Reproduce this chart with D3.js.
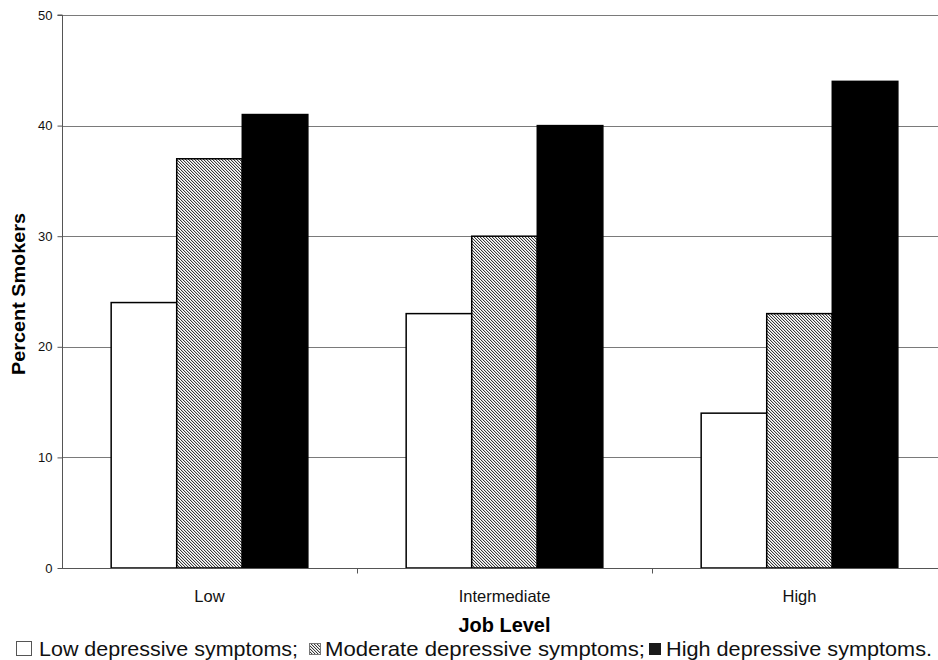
<!DOCTYPE html>
<html>
<head>
<meta charset="utf-8">
<script src="https://cdn.jsdelivr.net/npm/d3@7"></script>
<style>
  html, body { margin: 0; padding: 0; background: #fff; }
  svg { display: block; font-family: "Liberation Sans", Arial, sans-serif; }
</style>
</head>
<body>
<svg id="chart" width="938" height="660"></svg>
<script>
// ---- data ----
const categories = ["Low", "Intermediate", "High"];
const seriesNames = ["Low depressive symptoms", "Moderate depressive symptoms", "High depressive symptoms"];
const lowDepressive = [24, 23, 14];
const moderateDepressive = [37, 30, 23];
const highDepressive = [41, 40, 44];
const yTickValues = [0, 10, 20, 30, 40, 50];
const xAxisTitle = "Job Level";
const yAxisTitle = "Percent Smokers";
const legendLabels = ["Low depressive symptoms;", "Moderate depressive symptoms;", "High depressive symptoms."];

const seriesValues = [lowDepressive, moderateDepressive, highDepressive];

// ---- layout ----
const svg = d3.select("#chart");
const plot = { left: 62, right: 947, top: 15, bottom: 568 };

const defs = svg.append("defs");
const pat = defs.append("pattern")
  .attr("id", "hatch")
  .attr("patternUnits", "userSpaceOnUse")
  .attr("width", 3).attr("height", 3);
pat.append("rect").attr("width", 3).attr("height", 3).attr("fill", "#fff");
// pixel-exact "\" diagonal hatch
[[0, 0], [1, 1], [2, 2]].forEach(([px, py]) => {
  pat.append("rect").attr("x", px).attr("y", py).attr("width", 1).attr("height", 1)
    .attr("fill", "#3a3a3a").attr("shape-rendering", "crispEdges");
});
[[1, 0], [2, 1], [0, 2]].forEach(([px, py]) => {
  pat.append("rect").attr("x", px).attr("y", py).attr("width", 1).attr("height", 1)
    .attr("fill", "#cfcfcf").attr("shape-rendering", "crispEdges");
});

const x0 = d3.scaleBand().domain(categories).range([plot.left, plot.right]).paddingInner(0).paddingOuter(0);
const bw = x0.bandwidth();
const x1 = d3.scaleBand().domain(seriesNames).range([bw / 6, bw * 5 / 6]).padding(0);
const y = d3.scaleLinear().domain([0, 50]).range([plot.bottom, plot.top]);

const fills = ["#ffffff", "url(#hatch)", "#000000"];

// gridlines
svg.append("g")
  .selectAll("line")
  .data(yTickValues.filter(d => d > 0))
  .join("line")
  .attr("x1", plot.left).attr("x2", 938)
  .attr("y1", d => Math.round(y(d)) + 0.5).attr("y2", d => Math.round(y(d)) + 0.5)
  .attr("stroke", "#7a7a7a").attr("stroke-width", 1);

// bars
const groups = svg.append("g")
  .selectAll("g")
  .data(categories)
  .join("g")
  .attr("transform", d => `translate(${x0(d)},0)`);

groups.selectAll("rect")
  .data((c, i) => seriesNames.map((s, j) => ({ s, j, v: seriesValues[j][i] })))
  .join("rect")
  .attr("x", d => x1(d.s))
  .attr("width", x1.bandwidth())
  .attr("y", d => y(d.v))
  .attr("height", d => y(0) - y(d.v))
  .attr("fill", d => fills[d.j])
  .attr("stroke", "#000")
  .attr("stroke-width", 1.5);

// y axis
const yAxis = d3.axisLeft(y).tickValues(yTickValues).tickSize(5).tickPadding(5);
const yg = svg.append("g").attr("transform", `translate(${plot.left + 0.5},0)`).call(yAxis);
yg.select(".domain").attr("stroke", "#555").attr("d", `M-5,${plot.top}H0V${plot.bottom}`);
yg.selectAll(".tick line").attr("stroke", "#555");
yg.selectAll(".tick text").attr("font-size", 13).attr("fill", "#111")
  .attr("font-family", "Liberation Sans, Arial, sans-serif");

// x axis
const xAxis = d3.axisBottom(x0).tickSize(0).tickPadding(22);
const xg = svg.append("g").attr("transform", `translate(0,${plot.bottom + 0.5})`).call(xAxis);
xg.select(".domain").attr("stroke", "#555").attr("d", `M${plot.left},0H938`);
xg.selectAll(".tick text").attr("font-size", 16.5).attr("fill", "#111")
  .attr("font-family", "Liberation Sans, Arial, sans-serif");
// boundary ticks between categories
xg.append("g").selectAll("line")
  .data(categories.slice(1))
  .join("line")
  .attr("x1", d => Math.round(x0(d)) + 0.5).attr("x2", d => Math.round(x0(d)) + 0.5)
  .attr("y1", 0).attr("y2", 5)
  .attr("stroke", "#555");

// axis titles
svg.append("text")
  .attr("x", (plot.left + plot.right) / 2).attr("y", 632)
  .attr("text-anchor", "middle")
  .attr("font-weight", "bold").attr("font-size", 19.5)
  .attr("textLength", 92).attr("lengthAdjust", "spacingAndGlyphs")
  .text(xAxisTitle);

svg.append("text")
  .attr("transform", `translate(25,${(213 + 375) / 2}) rotate(-90)`)
  .attr("text-anchor", "middle")
  .attr("font-weight", "bold").attr("font-size", 18.5)
  .attr("textLength", 162).attr("lengthAdjust", "spacingAndGlyphs")
  .text(yAxisTitle);

// legend
const legendItems = [
  { box: [16.5, 641.5, 15, 14], boxFill: "#fff", boxStroke: "#555", tx: 39, tw: 259 },
  { box: [309.5, 643.5, 11, 11], boxFill: "url(#hatch)", boxStroke: "#777", tx: 325, tw: 320 },
  { box: [649, 643, 12, 12], boxFill: "#1a1a1a", boxStroke: "none", tx: 666, tw: 266 }
];
const lg = svg.append("g");
legendItems.forEach((it, i) => {
  lg.append("rect")
    .attr("x", it.box[0]).attr("y", it.box[1])
    .attr("width", it.box[2]).attr("height", it.box[3])
    .attr("fill", it.boxFill).attr("stroke", it.boxStroke).attr("stroke-width", 1);
  lg.append("text")
    .attr("x", it.tx).attr("y", 655.5)
    .attr("font-size", 21).attr("fill", "#111")
    .attr("textLength", it.tw).attr("lengthAdjust", "spacingAndGlyphs")
    .text(legendLabels[i]);
});
</script>
</body>
</html>
